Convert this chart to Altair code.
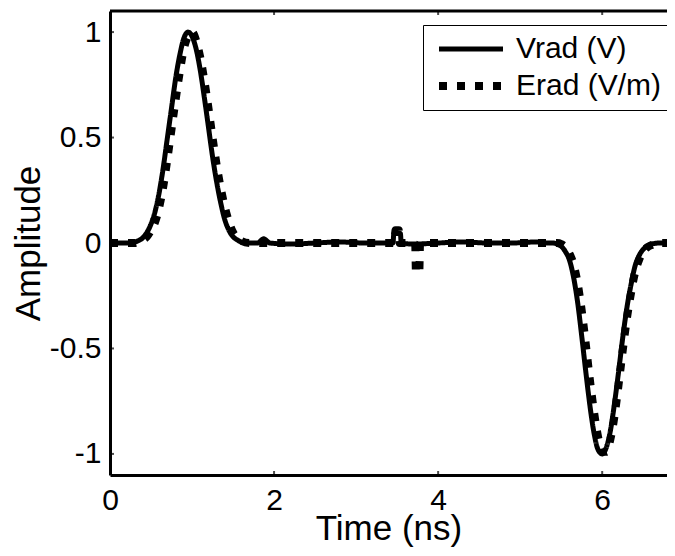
import altair as alt
import pandas as pd

# ---- data ----
t_vrad = [0.00, 0.20, 0.30, 0.35, 0.40, 0.45, 0.50, 0.55, 0.60, 0.65, 0.70, 0.75, 0.80, 0.85,
          0.90, 0.95, 1.00, 1.05, 1.10, 1.15, 1.20, 1.25, 1.30, 1.35, 1.40, 1.45, 1.50, 1.55,
          1.60, 1.70, 1.80, 1.87, 1.95, 2.20, 2.50, 2.80, 3.10, 3.40, 3.45, 3.46, 3.54, 3.55,
          3.70, 4.00, 4.30, 4.60,
          4.90, 5.20, 5.35, 5.40, 5.45, 5.50, 5.55, 5.60, 5.65, 5.70, 5.75, 5.80, 5.85, 5.90,
          5.95, 6.00, 6.05, 6.10, 6.15, 6.20, 6.25, 6.30, 6.35, 6.40, 6.45, 6.50, 6.55, 6.60,
          6.70, 6.80, 6.89]
vrad = [0.000, 0.000, 0.005, 0.012, 0.025, 0.05, 0.09, 0.15, 0.24, 0.36, 0.50, 0.64, 0.78, 0.89,
        0.97, 1.00, 0.98, 0.92, 0.82, 0.69, 0.55, 0.41, 0.29, 0.19, 0.11, 0.06, 0.03, 0.015,
        0.005, 0.000, 0.000, 0.020, 0.000, -0.005, 0.000, 0.005, 0.000, 0.000, 0.000, 0.045, 0.045, 0.000,
        -0.005, 0.000, 0.005, 0.000,
        0.000, 0.005, 0.000, 0.000, -0.005, -0.015, -0.04, -0.08, -0.16, -0.28, -0.44, -0.61, -0.77, -0.90,
        -0.98, -1.00, -0.97, -0.89, -0.76, -0.61, -0.45, -0.31, -0.20, -0.11, -0.06, -0.03, -0.015, -0.005,
        0.000, 0.000, 0.000]

t_erad = [0.00, 0.20, 0.30, 0.35, 0.40, 0.45, 0.50, 0.55, 0.60, 0.65, 0.70, 0.75, 0.80, 0.85,
          0.90, 0.95, 1.00, 1.05, 1.10, 1.15, 1.20, 1.25, 1.30, 1.35, 1.40, 1.45, 1.50, 1.55,
          1.60, 1.70, 2.00, 2.40, 2.80, 3.20, 3.47, 3.48, 3.52, 3.53, 3.72, 3.73, 3.77, 3.78,
          4.10, 4.50, 4.90, 5.30, 5.45, 5.50, 5.55, 5.60, 5.65, 5.70, 5.75, 5.80, 5.85, 5.90,
          5.95, 6.00, 6.05, 6.10, 6.15, 6.20, 6.25, 6.30, 6.35, 6.40, 6.45, 6.50, 6.55, 6.60,
          6.70, 6.89]
erad = [0.000, 0.000, 0.000, 0.005, 0.015, 0.03, 0.06, 0.10, 0.17, 0.27, 0.40, 0.54, 0.68, 0.81,
        0.92, 0.98, 1.00, 0.96, 0.88, 0.77, 0.64, 0.50, 0.37, 0.26, 0.17, 0.10, 0.05, 0.025,
        0.010, 0.000, 0.000, 0.000, 0.000, 0.000, 0.000, 0.06, 0.06, 0.000, 0.000, -0.14, -0.14, 0.000,
        0.000, 0.000, 0.000, 0.000, 0.000, -0.005, -0.02, -0.05, -0.10, -0.19, -0.32, -0.48, -0.65, -0.80,
        -0.92, -0.99, -0.99, -0.93, -0.82, -0.67, -0.51, -0.36, -0.24, -0.14, -0.08, -0.04, -0.02, -0.01,
        0.000, 0.000]

series = ["Vrad (V)", "Erad (V/m)"]
x_ticks = [0, 2, 4, 6]
y_ticks = [-1, -0.5, 0, 0.5, 1]
x_domain = [0, 6.79]
y_domain = [-1.1, 1.1]

FONT = "Liberation Sans"

df = pd.concat([
    pd.DataFrame({"t": t_vrad, "v": vrad, "s": series[0]}),
    pd.DataFrame({"t": t_erad, "v": erad, "s": series[1]}),
], ignore_index=True)

xs = alt.Scale(domain=x_domain, nice=False, zero=False)
ys = alt.Scale(domain=y_domain, nice=False, zero=False)

legend_kw = dict(
    title=None, orient="none", legendX=313, legendY=14,
    strokeColor="black", fillColor="white", padding=9,
    labelFont=FONT, labelFontSize=30, labelColor="black", labelOffset=9,
    symbolType="stroke", symbolSize=4096, symbolStrokeColor="black",
    clipHeight=30, rowPadding=7, cornerRadius=0, labelLimit=400, symbolOffset=3,
)

lines = alt.Chart(df).mark_line(
    clip=True, interpolate="monotone", color="black", strokeCap="butt"
).encode(
    x=alt.X("t:Q", scale=xs, axis=alt.Axis(
        values=x_ticks, title="Time (ns)", labelFlush=False,
        labelExpr="datum.value + ''", labelPadding=10, titlePadding=-4)),
    y=alt.Y("v:Q", scale=ys, axis=alt.Axis(
        values=y_ticks, title="Amplitude",
        labelExpr="datum.value + ''", labelPadding=9, titlePadding=3)),
    strokeDash=alt.StrokeDash("s:N", scale=alt.Scale(domain=series, range=[[1, 0], [8, 10]]),
                              legend=alt.Legend(**legend_kw)),
    strokeWidth=alt.StrokeWidth("s:N", scale=alt.Scale(domain=series, range=[5, 8]),
                                legend=alt.Legend(**legend_kw)),
)

top_spine = alt.Chart(pd.DataFrame({"y": [y_domain[1]]})).mark_rule(
    color="black", strokeWidth=3
).encode(y=alt.Y("y:Q", scale=ys))

xt = pd.DataFrame({"t": x_ticks})
x_ticks_bottom = alt.Chart(xt).mark_tick(
    orient="vertical", size=8, thickness=2, color="black", clip=True
).encode(x=alt.X("t:Q", scale=xs), y=alt.datum(y_domain[0]))
x_ticks_top = alt.Chart(xt).mark_tick(
    orient="vertical", size=8, thickness=2, color="black", clip=True
).encode(x=alt.X("t:Q", scale=xs), y=alt.datum(y_domain[1]))
y_ticks_left = alt.Chart(pd.DataFrame({"v": y_ticks})).mark_tick(
    orient="horizontal", size=8, thickness=2, color="black", clip=True
).encode(y=alt.Y("v:Q", scale=ys), x=alt.datum(x_domain[0]))

chart = alt.layer(
    lines, top_spine, x_ticks_bottom, x_ticks_top, y_ticks_left
).properties(
    width=557, height=464,
    autosize=alt.AutoSizeParams(type="none"),
    padding={"left": 102, "top": 3, "right": 0, "bottom": 72},
).configure_view(
    stroke=None
).configure_axis(
    grid=False, ticks=False, domainColor="black", domainWidth=3,
    labelFont=FONT, labelFontSize=30, labelColor="black",
    titleFont=FONT, titleFontSize=35, titleFontWeight="normal", titleColor="black",
)

chart.save("out.html", embed_options={"renderer": "svg", "actions": False})
